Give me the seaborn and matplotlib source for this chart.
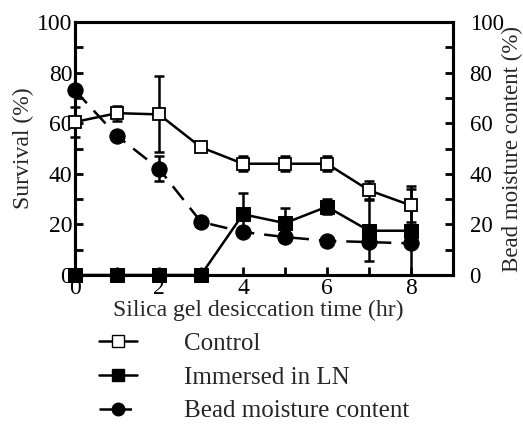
import matplotlib
matplotlib.use("Agg")
import matplotlib.pyplot as plt
from matplotlib.lines import Line2D
from matplotlib.ticker import MultipleLocator
import seaborn as sns

# Desiccation time (hr)
hours = [0, 1, 2, 3, 4, 5, 6, 7, 8]

# Survival (%) of control beads and beads immersed in liquid nitrogen
control = [60.5, 64, 63.5, 50.5, 44, 44, 44, 33.5, 27.5]
control_err = [6, 3, 15, 0, 3, 3, 3, 3.5, 6.5]
immersed = [0, 0, 0, 0, 24, 20.5, 27, 17.5, 17.5]
immersed_err = [0, 0, 0, 0, 8.5, 6, 3, 12, 17.5]

# Bead moisture content (%)
moisture = [73, 55, 42, 21, 17, 15, 13.5, 13, 12.5]
moisture_err = [0, 0, 5, 0, 0, 0, 0, 0, 0]

x_ticks = [0, 2, 4, 6, 8]
y_ticks = [0, 20, 40, 60, 80, 100]

sns.set_theme(style="ticks")
plt.rcParams["font.family"] = ["Liberation Serif", "DejaVu Serif"]

fig = plt.figure(figsize=(5.23, 4.25), dpi=100)
ax = fig.add_axes([0.1434, 0.353, 0.7226, 0.595])
ax2 = ax.twinx()

fs_tick = 17
fs_label = 17
fs_leg = 18
lw = 1.8
dash = (0, (7, 4))

# Bead moisture (right axis)
ax2.errorbar(hours, moisture, yerr=moisture_err, fmt="none", ecolor="black",
             elinewidth=lw, capsize=3.5, capthick=lw, clip_on=False, zorder=2)
sns.lineplot(x=hours, y=moisture, ax=ax2, color="black", linewidth=lw,
             linestyle=dash, marker="o", markersize=11,
             markerfacecolor="black", markeredgecolor="black",
             clip_on=False, zorder=3)

# Survival (left axis)
ax.errorbar(hours, immersed, yerr=immersed_err, fmt="none", ecolor="black",
            elinewidth=lw, capsize=3.5, capthick=lw, clip_on=False, zorder=2)
ax.errorbar(hours, control, yerr=control_err, fmt="none", ecolor="black",
            elinewidth=lw, capsize=3.5, capthick=lw, clip_on=False, zorder=2)
sns.lineplot(x=hours, y=immersed, ax=ax, color="black", linewidth=lw,
             marker="s", markersize=9.5, markerfacecolor="black",
             markeredgecolor="black", clip_on=False, zorder=3)
sns.lineplot(x=hours, y=control, ax=ax, color="black", linewidth=lw,
             marker="s", markersize=9, markerfacecolor="white",
             markeredgecolor="black", markeredgewidth=1.3,
             clip_on=False, zorder=4)

ax.set_zorder(ax2.get_zorder() + 1)
ax.patch.set_visible(False)

for a in (ax, ax2):
    a.set_xlim(0, 9)
    a.set_ylim(0, 100)
    for s in a.spines.values():
        s.set_linewidth(2.2)
        s.set_color("black")
    a.yaxis.set_major_locator(MultipleLocator(20))
    a.yaxis.set_minor_locator(MultipleLocator(10))

ax.set_xticks(x_ticks)
ax.xaxis.set_minor_locator(MultipleLocator(1))
ax.set_yticks(y_ticks)
ax2.set_yticks(y_ticks)

ax.tick_params(axis="both", which="both", direction="in", width=2, length=6,
               colors="black", labelsize=fs_tick, pad=2)
ax.tick_params(axis="x", pad=2)
ax2.tick_params(axis="y", which="both", direction="in", width=2, length=6,
                colors="black", labelsize=16.5, pad=12)

ax.set_xlabel("Silica gel desiccation time (hr)", fontsize=fs_label)
ax.xaxis.set_label_coords(0.485, -0.097)
ax.set_ylabel("Survival (%)", fontsize=fs_label, labelpad=2)
ax2.set_ylabel("Bead moisture content (%)", fontsize=16.5, rotation=90,
               va="center", ha="center")
ax2.yaxis.set_label_coords(1.157, 0.5)

handles = [
    Line2D([], [], color="black", linewidth=lw, marker="s", markersize=8,
           markerfacecolor="white", markeredgecolor="black"),
    Line2D([], [], color="black", linewidth=lw, marker="s", markersize=8,
           markerfacecolor="black", markeredgecolor="black"),
    Line2D([], [], color="black", linewidth=lw, linestyle=(0, (5, 3)),
           marker="o", markersize=9, markerfacecolor="black",
           markeredgecolor="black"),
]
labels = ["Control", "Immersed in LN", "Bead moisture content"]
fig.legend(handles, labels, loc="upper left", bbox_to_anchor=(0.19, 0.218),
           frameon=False, fontsize=fs_leg, handlelength=1.5, handletextpad=1.9,
           labelspacing=0.45, borderaxespad=0, borderpad=0)

fig.savefig("out.png", dpi=100)
